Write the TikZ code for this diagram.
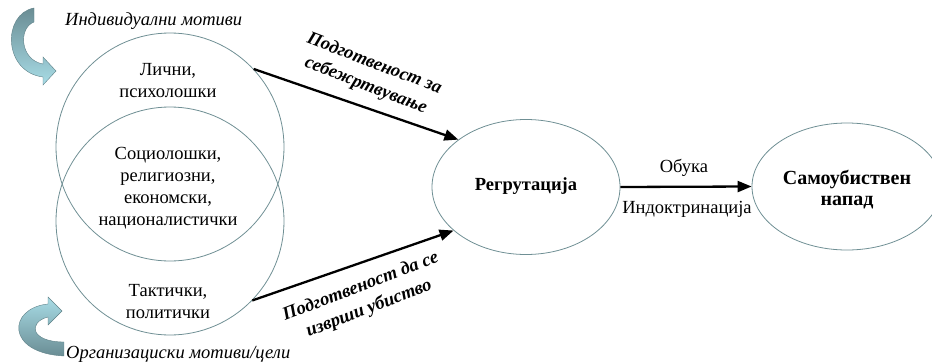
\documentclass[tikz,border=0pt]{standalone}
\usepackage{fontspec}
\setmainfont{Liberation Serif}
\usetikzlibrary{shapes.geometric,arrows.meta}
\definecolor{rim}{HTML}{6F8F94}
\definecolor{adark}{HTML}{6A8D94}
\definecolor{alight}{HTML}{A8DCE6}
\definecolor{aedge}{HTML}{5E8087}
\tikzset{
  venn/.style={circle,draw=rim,line width=0.8pt,minimum size=228pt,inner sep=0pt},
  oval/.style={ellipse,draw=rim,line width=0.8pt,inner sep=0pt},
  body/.style={font=\fontsize{18.5}{22}\selectfont,align=center,inner sep=0pt},
  boldtxt/.style={font=\fontsize{18.5}{21}\selectfont\bfseries,align=center,inner sep=0pt},
  slant/.style={font=\fontsize{18.5}{23.5}\selectfont\bfseries\itshape,align=center,inner sep=0pt},
  motive/.style={font=\fontsize{18.5}{20}\selectfont\itshape,anchor=west,inner sep=0pt},
  thick arrow/.style={line width=2.3pt,-{Triangle[length=14pt,width=11pt]}},
}
\begin{document}
\begin{tikzpicture}[x=1pt,y=-1pt]
\useasboundingbox (0,0) rectangle (932,364);
% Venn circles
\node[venn] (c1) at (170,147) {};
\node[venn] (c2) at (170,221) {};
% ellipses
\node[oval,minimum width=188pt,minimum height=135pt] (r) at (526,187) {};
\node[boldtxt] (rt) at (526,186) {Регрутација};
\node[oval,minimum width=190pt,minimum height=127pt] (s) at (847,186.5) {};
\node[boldtxt,font=\fontsize{20}{21}\selectfont\bfseries] (st) at (847,190) {Самоубиствен\\напад};
% circle texts
\node[body] (t1) at (168,81) {Лични,\\психолошки};
\node[body] (t2) at (168,188) {Социолошки,\\религиозни,\\економски,\\националистички};
\node[body] (t3) at (168,302) {Тактички,\\политички};
% arrows
\draw[thick arrow] (c1.43) -- (r.145);
\draw[thick arrow] (c2.-44) -- (r.211);
\draw[thick arrow] (r.east) -- (s.west);
% arrow labels
\node[slant,rotate=-21] (l1) at (370,75) {Подготвеност за\\себежртвување};
\node[slant,rotate=21] (l2) at (365,298) {Подготвеност да се\\изврши убиство};
\node[body] (ob) at (684,168) {Обука};
\node[body] (ind) at (687,209) {Индоктринација};
% motive labels
\node[motive] (m1) at (65,21) {Индивидуални мотиви};
\node[motive] (m2) at (66,354) {Организациски мотиви/цели};
% curved block arrows
\path[draw=aedge,line width=0.4pt,top color=adark,bottom color=alight]
  (43,64) -- (43,57) -- (56,71) -- (43,85) -- (43,77)
  .. controls (3,72) and (2,14) .. (34,8) -- (34,22)
  .. controls (18,28) and (20,60) .. (43,64) -- cycle;
\path[draw=aedge,line width=0.4pt,top color=alight,bottom color=adark]
  (48,304) -- (48,297) -- (62,311) -- (48,325) -- (48,317)
  .. controls (28,322) and (30,342) .. (64,342) -- (64,356)
  .. controls (5,353) and (8,308) .. (48,304) -- cycle;
\end{tikzpicture}
\end{document}
